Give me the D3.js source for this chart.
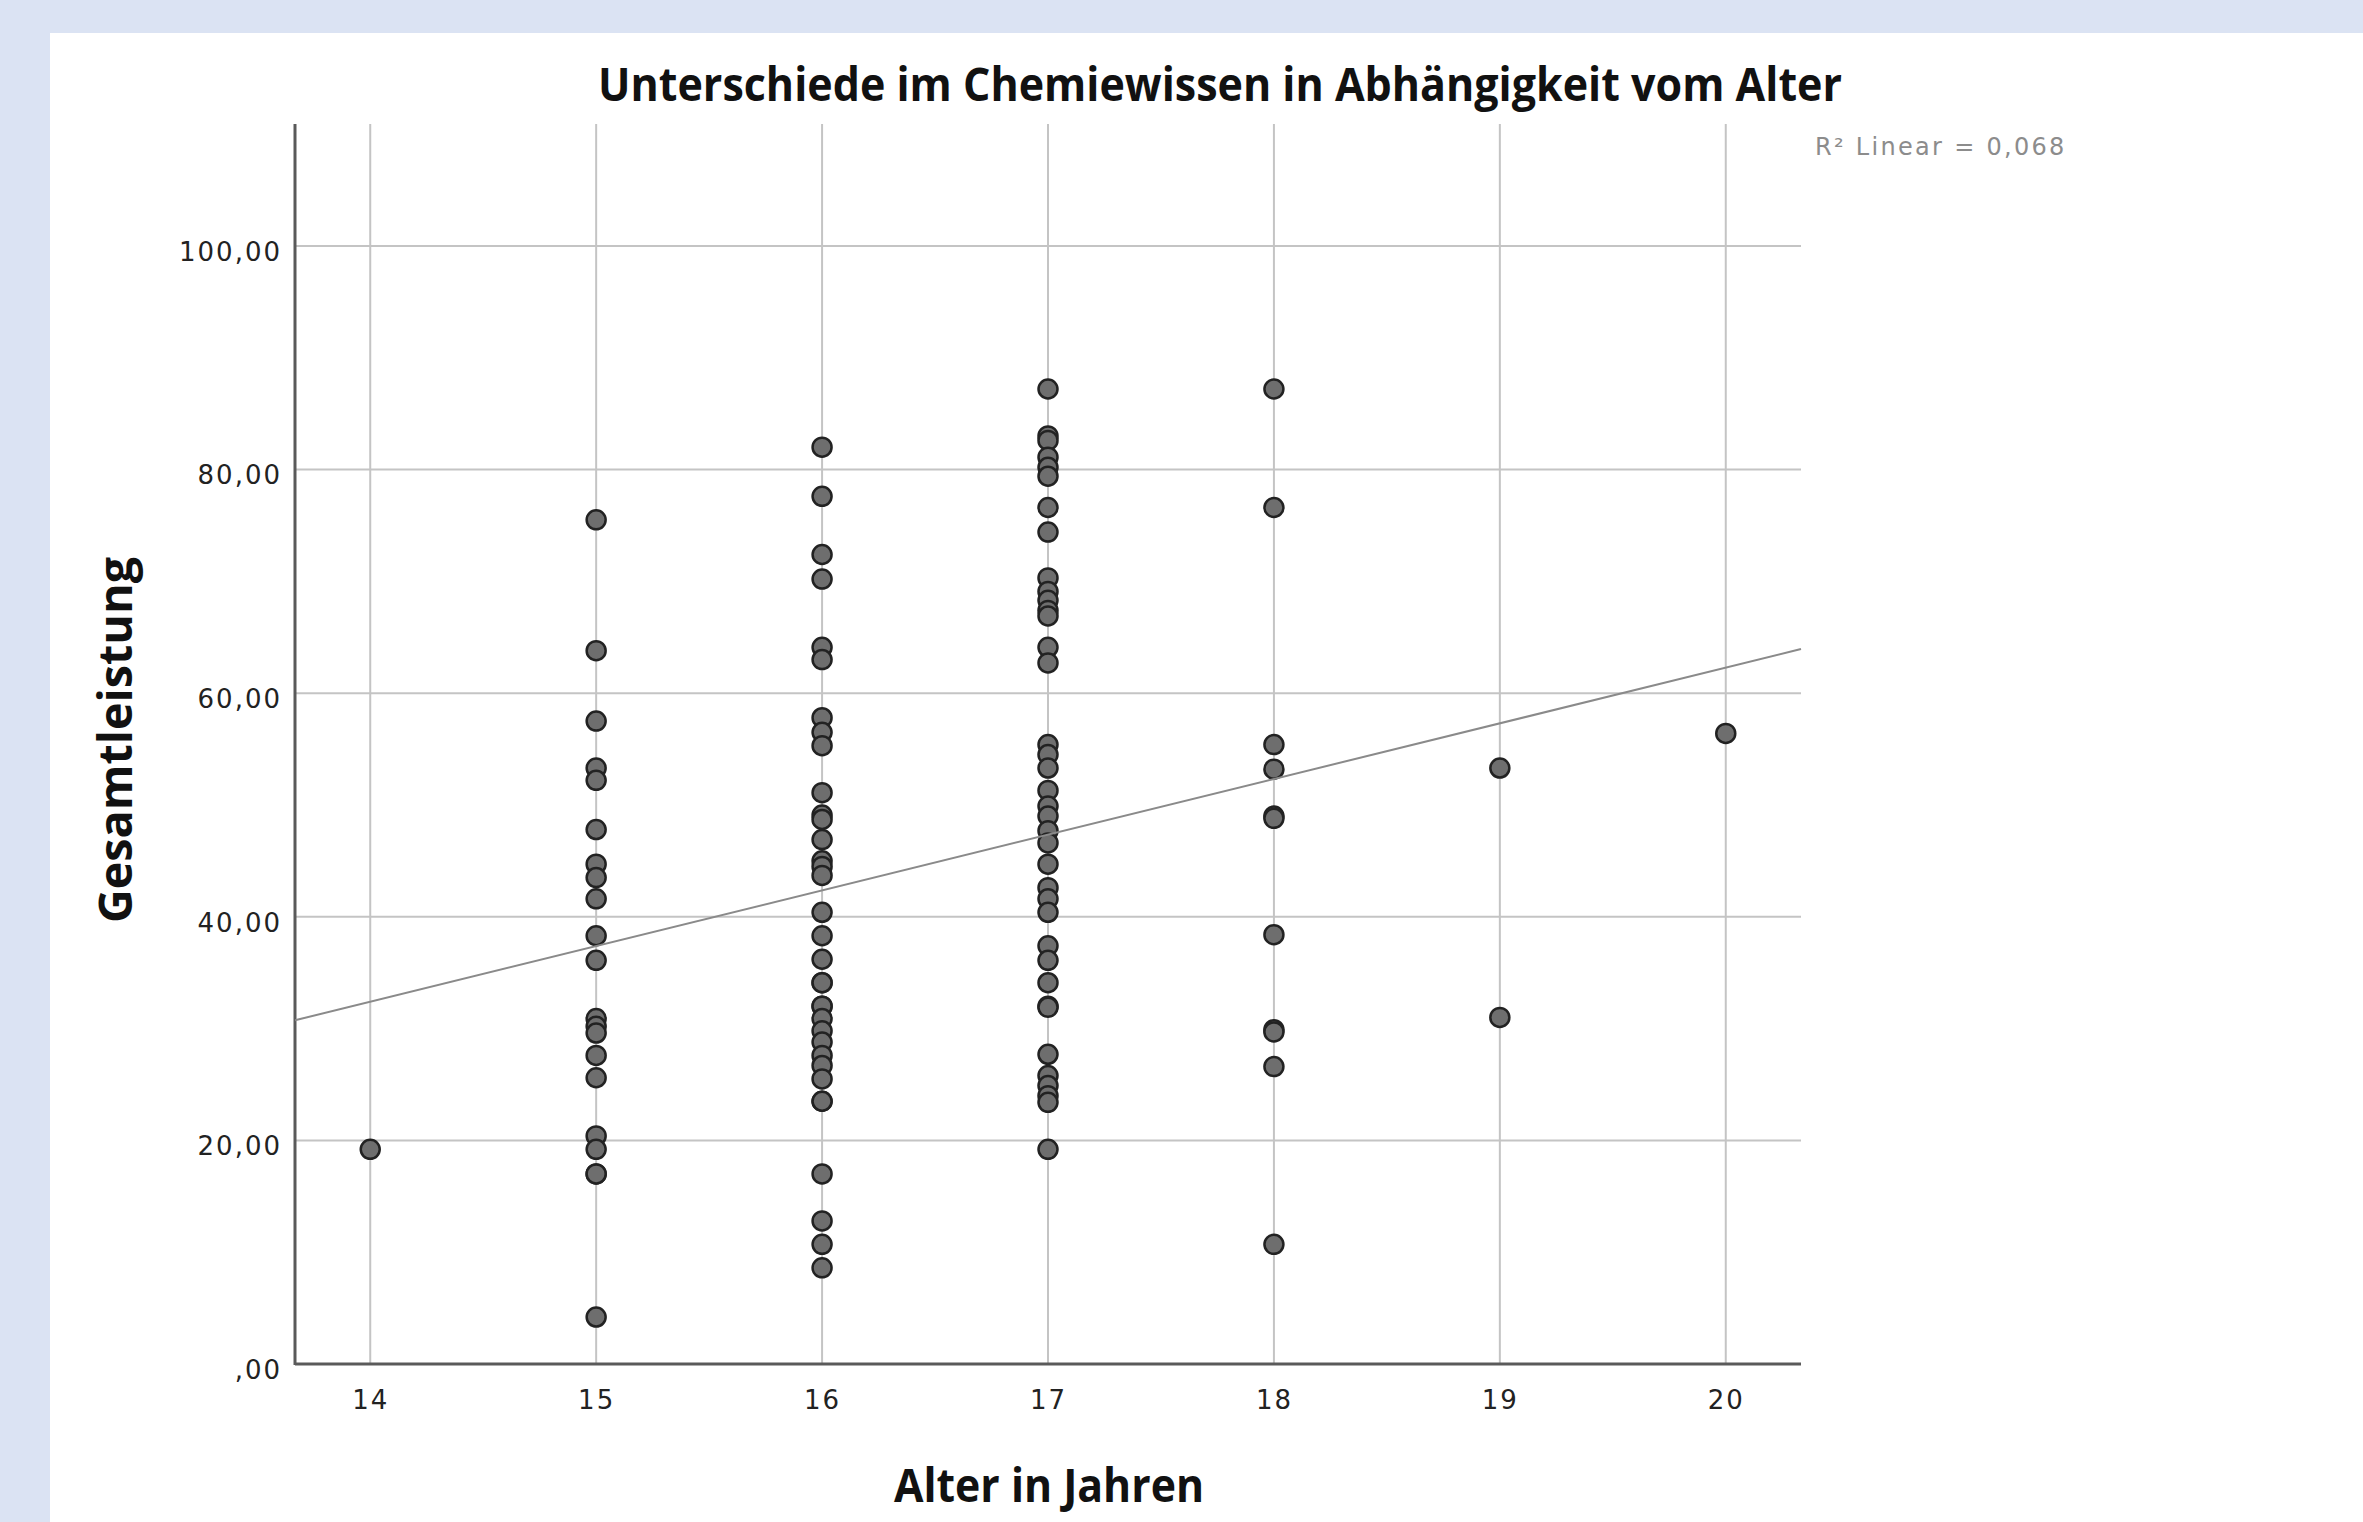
<!DOCTYPE html>
<html>
<head>
<meta charset="utf-8">
<script src="https://cdn.jsdelivr.net/npm/d3@7/dist/d3.min.js"></script>
<style>
  body { margin: 0; background: #dbe3f3; }
</style>
</head>
<body>
<div id="chart"></div>
<script>
// ages on the x axis and the scores read for each age
let ages = [14, 15, 16, 17, 18, 19, 20];

let scores14 = [19.2];
let scores15 = [75.5, 63.8, 57.5, 53.3, 52.2, 47.8, 44.7, 43.5, 41.6, 38.3, 36.1,
                30.9, 30.2, 29.6, 27.6, 25.6, 20.4, 19.2, 17.0, 17.0, 4.2];
let scores16 = [82.0, 77.6, 72.4, 70.2, 64.1, 63.0, 57.8, 56.5, 55.3, 51.1, 49.1, 48.7,
                46.9, 45.0, 44.5, 43.7, 40.4, 38.3, 36.2, 34.1, 34.1, 32.0, 32.0, 30.9,
                29.8, 28.8, 27.6, 26.7, 25.5, 23.5, 23.5, 17.0, 12.8, 10.7, 8.6];
let scores17 = [87.2, 83.0, 82.6, 81.1, 80.2, 79.4, 76.6, 74.4, 70.3, 69.1, 68.3, 67.4,
                66.9, 64.1, 62.7, 55.4, 54.5, 53.3, 51.3, 49.9, 49.0, 47.7, 46.6, 44.7,
                42.6, 41.6, 40.4, 37.4, 36.1, 34.1, 32.0, 31.9, 27.7, 25.8, 24.9, 24.0,
                23.4, 19.2];
let scores18 = [87.2, 76.6, 55.4, 53.2, 49.0, 48.8, 38.4, 29.9, 29.7, 26.6, 10.7];
let scores19 = [53.3, 31.0];
let scores20 = [56.4];

let scoresByAge = [scores14, scores15, scores16, scores17, scores18, scores19, scores20];

let yTicks = [0, 20, 40, 60, 80, 100];
let yTickLabels = [',00', '20,00', '40,00', '60,00', '80,00', '100,00'];
let xTicks = ages;

let xExtent = [13.667, 20.333];
let yExtent = [0, 110.9];

// linear fit as drawn in the picture (score = intercept + slope * age)
let fitIntercept = -37.32;
let fitSlope = 4.98;

let titleText = 'Unterschiede im Chemiewissen in Abhängigkeit vom Alter';
let xTitle = 'Alter in Jahren';
let yTitle = 'Gesamtleistung';
let fitLabel = 'R² Linear = 0,068';

let points = [];
ages.forEach(function(a, i) {
    scoresByAge[i].forEach(function(s) {
        points.push({ age: a, score: s });
    });
});

let width = 2363;
let height = 1522;

let x = d3.scaleLinear().domain(xExtent).range([295, 1801]);
let y = d3.scaleLinear().domain(yExtent).range([1364, 124]);

let svg = d3.select('#chart').append('svg')
    .attr('width', width)
    .attr('height', height);

svg.append('rect')
    .attr('width', width).attr('height', height)
    .attr('fill', '#dbe3f3');

svg.append('rect')
    .attr('x', 50).attr('y', 33)
    .attr('width', width - 50).attr('height', height - 33)
    .attr('fill', '#ffffff');

// grid
svg.append('g').selectAll('line')
    .data(yTicks.filter(d => d > 0))
    .join('line')
    .attr('x1', x.range()[0]).attr('x2', x.range()[1])
    .attr('y1', d => y(d)).attr('y2', d => y(d))
    .attr('stroke', '#c4c4c4')
    .attr('stroke-width', 2);

svg.append('g').selectAll('line')
    .data(xTicks)
    .join('line')
    .attr('x1', d => x(d)).attr('x2', d => x(d))
    .attr('y1', y.range()[0]).attr('y2', y.range()[1])
    .attr('stroke', '#c4c4c4')
    .attr('stroke-width', 2);

// axes
let yAxis = svg.append('g')
    .attr('transform', 'translate(' + x.range()[0] + ',0)')
    .call(d3.axisLeft(y).tickValues(yTicks).tickFormat((d, i) => yTickLabels[i]).tickSize(0).tickPadding(13));

let xAxis = svg.append('g')
    .attr('transform', 'translate(0,' + y.range()[0] + ')')
    .call(d3.axisBottom(x).tickValues(xTicks).tickFormat(d => d).tickSize(0).tickPadding(27));

[yAxis, xAxis].forEach(function(ax) {
    ax.select('.domain').remove();
    ax.selectAll('text')
        .attr('font-family', 'DejaVu Sans, sans-serif')
        .attr('font-size', 26)
        .attr('letter-spacing', 2)
        .attr('fill', '#222');
});
yAxis.selectAll('text').attr('dy', '0.55em');

svg.append('line')
    .attr('x1', x.range()[0]).attr('x2', x.range()[0])
    .attr('y1', y.range()[1]).attr('y2', y.range()[0] + 1)
    .attr('stroke', '#5a5a5a').attr('stroke-width', 3);

svg.append('line')
    .attr('x1', x.range()[0]).attr('x2', x.range()[1])
    .attr('y1', y.range()[0]).attr('y2', y.range()[0])
    .attr('stroke', '#5a5a5a').attr('stroke-width', 3);

// points
svg.append('g').selectAll('circle')
    .data(points)
    .join('circle')
    .attr('cx', d => x(d.age))
    .attr('cy', d => y(d.score))
    .attr('r', 9.5)
    .attr('fill', '#6e6e6e')
    .attr('stroke', '#222')
    .attr('stroke-width', 2.5);

// fit line
svg.append('line')
    .attr('x1', x(xExtent[0])).attr('y1', y(fitIntercept + fitSlope * xExtent[0]))
    .attr('x2', x(xExtent[1])).attr('y2', y(fitIntercept + fitSlope * xExtent[1]))
    .attr('stroke', '#8a8a8a')
    .attr('stroke-width', 2);

svg.append('text')
    .attr('x', 1815).attr('y', 155)
    .attr('font-family', 'DejaVu Sans, sans-serif')
    .attr('font-size', 24)
    .attr('letter-spacing', 2.3)
    .attr('fill', '#8c8c8c')
    .text(fitLabel);

// titles
svg.append('text')
    .attr('x', 1220).attr('y', 101)
    .attr('text-anchor', 'middle')
    .attr('font-family', 'Open Sans, sans-serif')
    .attr('font-weight', 700)
    .attr('font-size', 46)
    .attr('textLength', 1244)
    .attr('lengthAdjust', 'spacingAndGlyphs')
    .attr('fill', '#111')
    .text(titleText);

svg.append('text')
    .attr('x', 1049).attr('y', 1502)
    .attr('text-anchor', 'middle')
    .attr('font-family', 'Open Sans, sans-serif')
    .attr('font-weight', 700)
    .attr('font-size', 46)
    .attr('textLength', 310)
    .attr('lengthAdjust', 'spacingAndGlyphs')
    .attr('fill', '#111')
    .text(xTitle);

svg.append('text')
    .attr('transform', 'translate(132,740) rotate(-90)')
    .attr('text-anchor', 'middle')
    .attr('font-family', 'Open Sans, sans-serif')
    .attr('font-weight', 700)
    .attr('font-size', 46)
    .attr('textLength', 366)
    .attr('lengthAdjust', 'spacingAndGlyphs')
    .attr('fill', '#111')
    .text(yTitle);
</script>
</body>
</html>
